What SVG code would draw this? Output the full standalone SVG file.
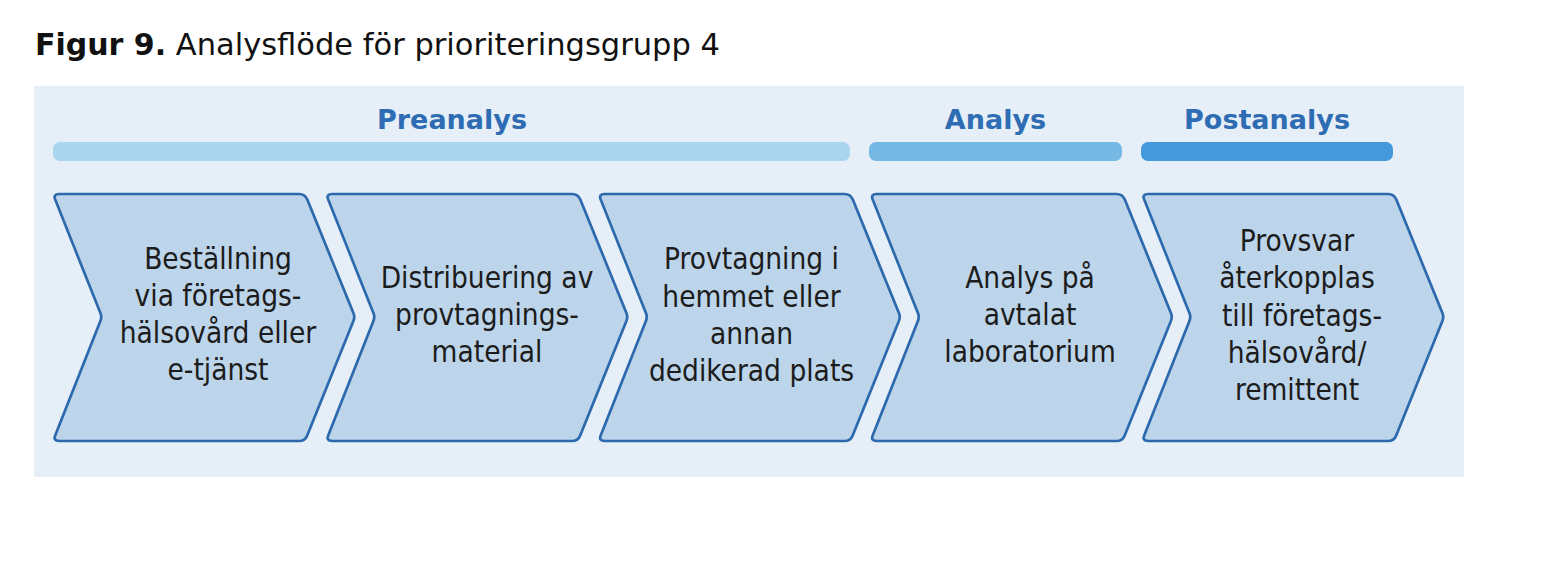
<svg xmlns="http://www.w3.org/2000/svg" xmlns:xlink="http://www.w3.org/1999/xlink" width="1542" height="562" viewBox="0 0 1542 562">
  <style>
    .title-b { font-family: "DejaVu Sans", Verdana, sans-serif; font-weight: bold; font-size: 30px; fill: #111111; }
    .title-r { font-family: "DejaVu Sans", Verdana, sans-serif; font-weight: normal; font-size: 30.5px; fill: #111111; }
    .phase { font-family: "DejaVu Sans", Verdana, sans-serif; font-weight: bold; font-size: 27px; fill: #2e6cb3; text-anchor: middle; }
    .chev { fill: #bdd5ea; stroke: #2d69ad; stroke-width: 2.7; stroke-linejoin: round; }
    .lbl { font-family: "DejaVu Sans Condensed", "DejaVu Sans", sans-serif; font-stretch: condensed; font-size: 29.5px; fill: #1c1c1c; text-anchor: middle; }
  </style>
  <defs>
    <path id="chev" class="chev" d="M6,194 L246,194 Q252,194 254.3,199.6 L300.5,313.3 Q302,317 300.5,320.7 L254.2,435.4 Q252,441 246,441 L6,441 Q0,441 2.2,435.4 L47.5,320.7 Q49,317 47.5,313.3 L2.2,199.6 Q0,194 6,194 Z"/>
  </defs>
  <rect width="1542" height="562" fill="#ffffff"/>
  <text x="35" y="55"><tspan class="title-b">Figur 9.</tspan><tspan class="title-r"> Analysflöde för prioriteringsgrupp 4</tspan></text>
  <rect id="panel" x="34" y="86" width="1430" height="391" fill="#e6eff7"/>

  <g id="phase-preanalys">
    <text class="phase" x="452" y="129">Preanalys</text>
    <rect x="53" y="142" width="797" height="19" rx="7" fill="#a9d5ee"/>
  </g>
  <g id="phase-analys">
    <text class="phase" x="995.5" y="129">Analys</text>
    <rect x="869" y="142" width="253" height="19" rx="7" fill="#76b9e4"/>
  </g>
  <g id="phase-postanalys">
    <text class="phase" x="1267" y="129">Postanalys</text>
    <rect x="1141" y="142" width="252" height="19" rx="7" fill="#4499dc"/>
  </g>

  <g id="connectors"/>

  <g id="step1">
    <use xlink:href="#chev" href="#chev" x="53"/>
    <text class="lbl" x="218"><tspan x="218" y="269">Beställning</tspan><tspan x="218" y="306">via företags-</tspan><tspan x="218" y="343">hälsovård eller</tspan><tspan x="218" y="380">e-tjänst</tspan></text>
  </g>
  <g id="step2">
    <use xlink:href="#chev" href="#chev" x="326"/>
    <text class="lbl" x="487"><tspan x="487" y="288">Distribuering av</tspan><tspan x="487" y="325">provtagnings-</tspan><tspan x="487" y="362">material</tspan></text>
  </g>
  <g id="step3">
    <use xlink:href="#chev" href="#chev" x="598.5"/>
    <text class="lbl" x="751.5"><tspan x="751.5" y="269">Provtagning i</tspan><tspan x="751.5" y="307">hemmet eller</tspan><tspan x="751.5" y="344">annan</tspan><tspan x="751.5" y="381">dedikerad plats</tspan></text>
  </g>
  <g id="step4">
    <use xlink:href="#chev" href="#chev" x="870.5"/>
    <text class="lbl" x="1030"><tspan x="1030" y="288">Analys på</tspan><tspan x="1030" y="325">avtalat</tspan><tspan x="1030" y="362">laboratorium</tspan></text>
  </g>
  <g id="step5">
    <use xlink:href="#chev" href="#chev" x="1142"/>
    <text class="lbl" x="1297"><tspan x="1297" y="251">Provsvar</tspan><tspan x="1297" y="288">återkopplas</tspan><tspan x="1302" y="326">till företags-</tspan><tspan x="1297" y="363">hälsovård/</tspan><tspan x="1297" y="400">remittent</tspan></text>
  </g>
</svg>
